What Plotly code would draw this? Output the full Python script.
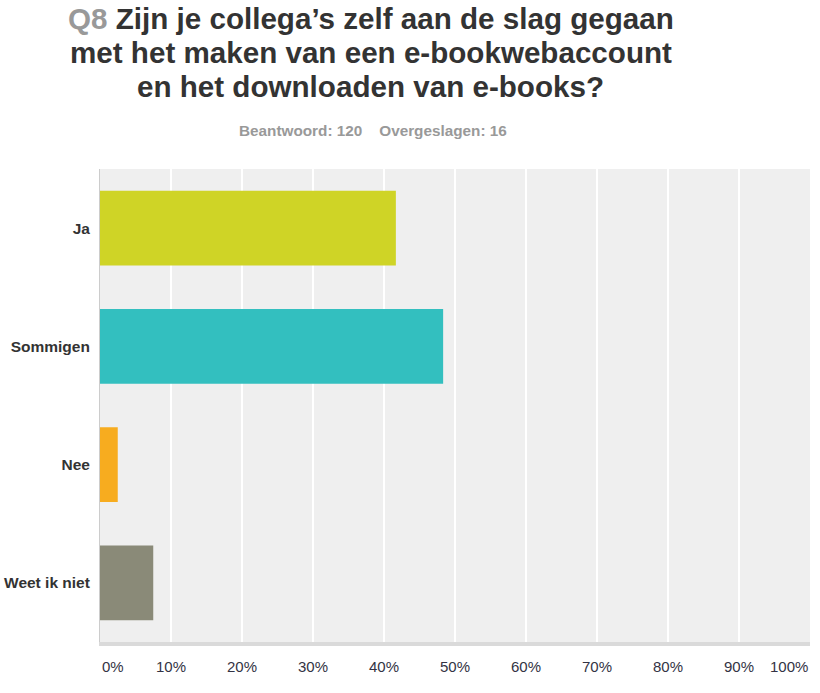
import plotly.graph_objects as go

categories = ["Ja", "Sommigen", "Nee", "Weet ik niet"]
percentages = [41.67, 48.33, 2.50, 7.50]
colors = ["#cfd426", "#33bfbf", "#f7ac1f", "#8a8a78"]
tick_vals = [0, 10, 20, 30, 40, 50, 60, 70, 80, 90, 100]
tick_labels = ["0%", "10%", "20%", "30%", "40%", "50%", "60%", "70%", "80%", "90%", "100%"]
title_lines = [
    "<span style='color:#999999'>Q8</span> Zijn je collega’s zelf aan de slag gegaan",
    "met het maken van een e-bookwebaccount",
    "en het downloaden van e-books?",
]
subtitle = "Beantwoord: 120&nbsp;&nbsp;&nbsp;&nbsp;Overgeslagen: 16"

FONT = "Liberation Sans, Arial, sans-serif"

fig = go.Figure()
fig.add_trace(go.Bar(
    y=categories, x=percentages, orientation="h",
    marker=dict(color=colors, line=dict(width=0)),
    hoverinfo="x+y",
))

annotations = []
for v, t in zip(tick_vals, tick_labels):
    anchor = "center"
    if v == 0:
        anchor = "left"
    elif v == 100:
        anchor = "right"
    annotations.append(dict(
        x=v, y=0, xref="x", yref="paper", yshift=-24, text=t,
        showarrow=False, xanchor=anchor, yanchor="middle",
        font=dict(family=FONT, size=15, color="#333344"),
    ))

TX = (370.5 - 100) / 710
for i, (line, sh) in enumerate(zip(title_lines, [151, 117, 83])):
    annotations.append(dict(
        x=TX, y=1, xref="paper", yref="paper", yshift=sh,
        text=line, showarrow=False, xanchor="center", yanchor="middle",
        font=dict(family=FONT, size=29.6, color="#333333", weight="bold"),
    ))
annotations.append(dict(
    x=(372.5 - 100) / 710, y=1, xref="paper", yref="paper", yshift=39,
    text=subtitle, showarrow=False, xanchor="center", yanchor="middle",
    font=dict(family=FONT, size=15.3, color="#999999", weight="bold"),
))

fig.update_layout(
    width=820, height=693,
    margin=dict(l=100, r=10, t=169, b=51),
    paper_bgcolor="white", plot_bgcolor="#efefef",
    showlegend=False,
    bargap=0.366,
    annotations=annotations,
    xaxis=dict(range=[0, 100], tickvals=tick_vals, showticklabels=False,
               showgrid=True, gridcolor="white", gridwidth=1.5,
               zeroline=False, showline=True, linecolor="#dadada", linewidth=4,
               fixedrange=True, automargin=False),
    yaxis=dict(categoryorder="array", categoryarray=categories[::-1],
               showgrid=False, zeroline=False, showline=True,
               linecolor="#cccccc", linewidth=1, ticks="",
               ticklabelstandoff=6, automargin=False,
               tickfont=dict(family=FONT, size=15.5, color="#333333", weight="bold"),
               fixedrange=True),
)

fig.write_html(
    "out.html",
    config={"displayModeBar": False},
    post_script="document.body.style.margin='0px';document.body.style.overflow='hidden';",
)
